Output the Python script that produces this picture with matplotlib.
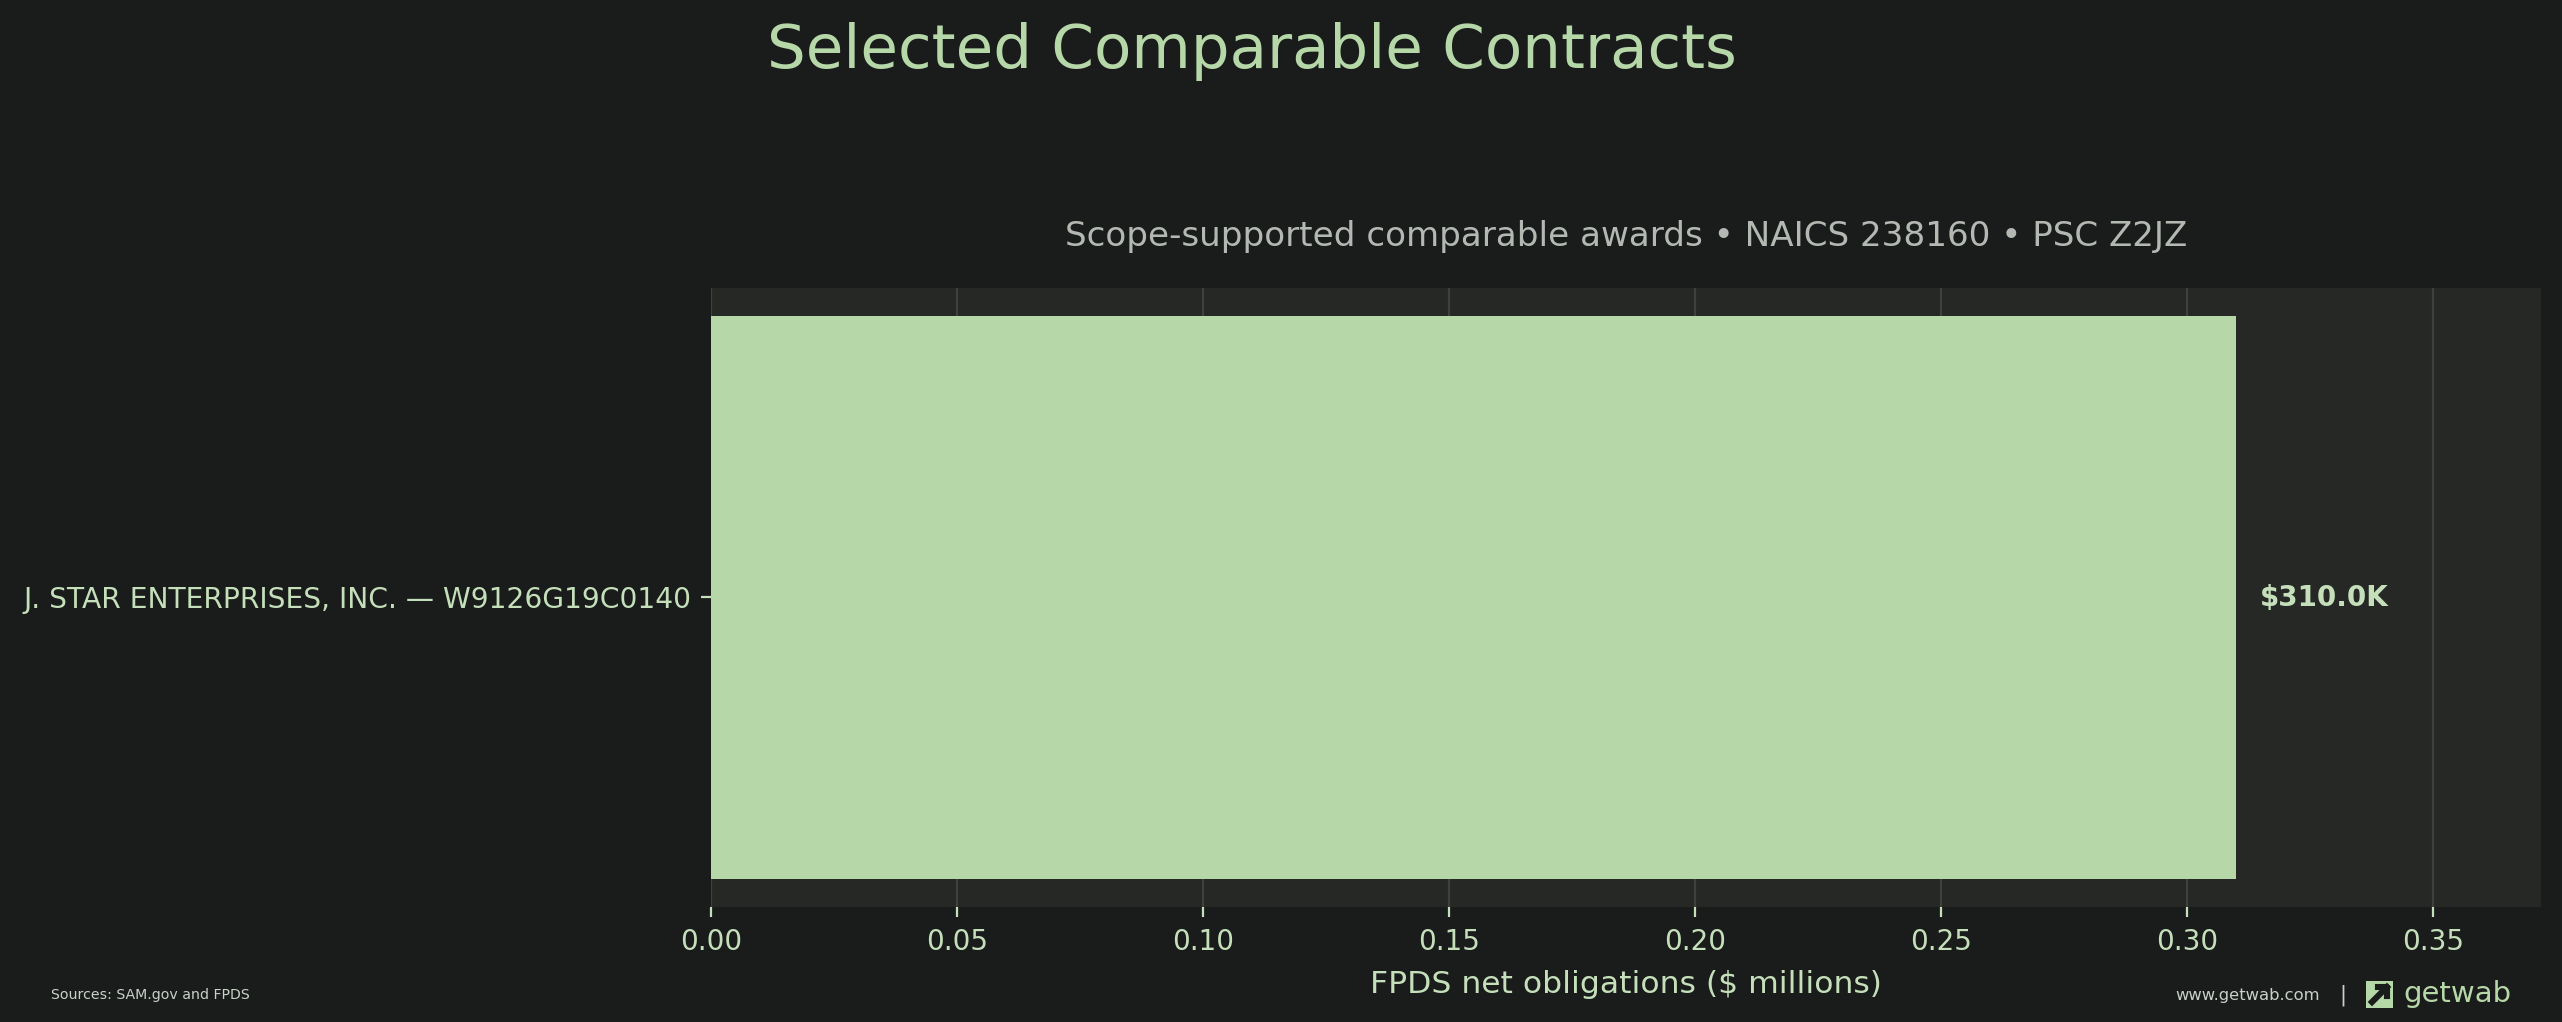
import matplotlib
matplotlib.use("Agg")
import matplotlib.pyplot as plt
from matplotlib.patches import Rectangle
from matplotlib.lines import Line2D

# ---- data ----
labels = ["J. STAR ENTERPRISES, INC. — W9126G19C0140"]
values = [0.31]  # $ millions
value_labels = ["$310.0K"]
xticks = [0.0, 0.05, 0.10, 0.15, 0.20, 0.25, 0.30, 0.35]
title = "Selected Comparable Contracts"
subtitle = "Scope-supported comparable awards • NAICS 238160 • PSC Z2JZ"
xlabel = "FPDS net obligations ($ millions)"
source = "Sources: SAM.gov and FPDS"

# ---- style ----
BG = "#1a1c1b"
AX_BG = "#262826"
GRID = "#3e413e"
BAR = "#b6d7a8"
TXT = "#c5dfbb"
SUB = "#b3b8b3"

W, H = 2562, 1022
fig = plt.figure(figsize=(W / 200, H / 200), dpi=200, facecolor=BG)
ax = fig.add_axes([711 / W, 1 - 907 / H, (2541 - 711) / W, (907 - 288) / H])
ax.set_facecolor(AX_BG)
ax.barh(labels, values, color=BAR, height=0.8, zorder=3)
ax.set_xlim(0, max(values) * 1.2)
ax.set_xticks(xticks)
ax.set_xticklabels([f"{t:.2f}" for t in xticks])
ax.grid(axis="x", color=GRID, linewidth=0.8, zorder=0)
ax.set_axisbelow(True)
for s in ax.spines.values():
    s.set_visible(False)
ax.tick_params(colors=TXT, labelsize=10)
ax.tick_params(axis="x", pad=4)
ax.tick_params(axis="y", labelsize=10.15)
ax.set_xlabel(xlabel, color=TXT, fontsize=11.3, labelpad=5)
ax.set_title(subtitle, color=SUB, fontsize=12.3, pad=15)
xmax = max(values) * 1.2
for i, (v, l) in enumerate(zip(values, value_labels)):
    ax.text(v + xmax * 0.013, i, l, va="center", ha="left", color=TXT,
            fontsize=10, fontweight="bold")

fig.text(0.4887, 1 - 68 / H, title, ha="center", va="baseline",
         fontsize=22, color=BAR)

# footer
fy = 1 - 995 / H
fig.text(51 / W, fy, source, ha="left", va="center", fontsize=5.1, color="#c8d0c8")
fig.text(2320 / W, fy, "www.getwab.com", ha="right", va="center", fontsize=5.9, color="#c8d0c8")
fig.text(2343 / W, fy, "|", ha="center", va="center", fontsize=7.5, color="#c8d0c8")
x0, y0, s = 2366 / W, 1 - 1008 / H, 27
fig.add_artist(Rectangle((x0, y0), s / W, s / H, transform=fig.transFigure,
                         facecolor=BAR, edgecolor="none"))
fig.add_artist(Line2D([x0 + 6 / W, x0 + 21 / W], [y0 + 6 / H, y0 + 21 / H],
                      transform=fig.transFigure, color=BG, linewidth=2.2))
fig.add_artist(Line2D([x0 + 12 / W, x0 + 21 / W, x0 + 21 / W],
                      [y0 + 21 / H, y0 + 21 / H, y0 + 12 / H],
                      transform=fig.transFigure, color=BG, linewidth=2.2))
fig.text(2403 / W, 1 - 1002 / H, "getwab", ha="left", va="baseline",
         fontsize=10.5, color=BAR)

fig.savefig("out.png", dpi=200, facecolor=BG)
